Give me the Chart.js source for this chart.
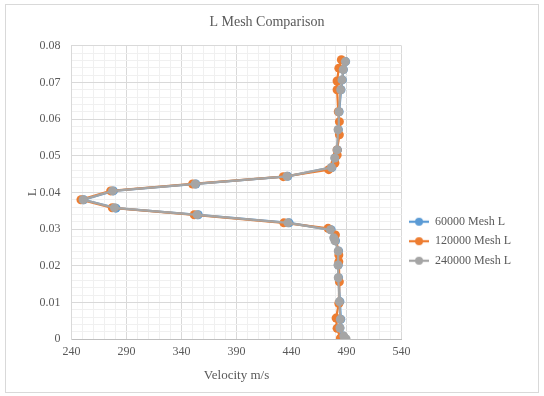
<!DOCTYPE html>
<html>
<head>
<meta charset="utf-8">
<script src="https://cdn.jsdelivr.net/npm/chart.js@4"></script>
<style>
    html, body { margin: 0; padding: 0; background: #ffffff; }
    #wrap { width: 544px; height: 396px; position: relative; }
</style>
</head>
<body>
<div id="wrap"><canvas id="meshChart"></canvas></div>
<script>
// values (velocity m/s vs L)
const seriesNames = ['60000 Mesh L', '120000 Mesh L', '240000 Mesh L']
const seriesColors = ['#5B9BD5', '#ED7D31', '#A5A5A5']

const velocity60k = [489.0, 487.0, 484.0, 484.8, 484.0, 482.8, 482.5, 482.8, 480.0, 478.8, 476.0, 437.8, 355.2, 280.4, 251.0, 278.0, 353.0, 436.5, 476.8, 479.6, 481.8, 482.6, 483.3, 485.0, 486.2, 487.2, 489.2]
const length60k = [0.0000, 0.0008, 0.0030, 0.0054, 0.0102, 0.0167, 0.0202, 0.0240, 0.0268, 0.0276, 0.0298, 0.0317, 0.0339, 0.0357, 0.0380, 0.0404, 0.0423, 0.0444, 0.0468, 0.0494, 0.0516, 0.0571, 0.0620, 0.0680, 0.0707, 0.0735, 0.0757]

const velocity120k = [484.4, 481.4, 480.5, 483.0, 483.5, 483.0, 483.0, 479.9, 473.2, 433.0, 351.5, 277.0, 248.5, 275.5, 350.0, 432.5, 473.8, 479.5, 481.5, 481.4, 483.5, 483.5, 482.5, 481.4, 481.4, 483.0, 485.3]
const length120k = [0.0002, 0.0029, 0.0057, 0.0097, 0.0156, 0.0211, 0.0229, 0.0284, 0.0302, 0.0317, 0.0339, 0.0358, 0.0380, 0.0404, 0.0423, 0.0443, 0.0462, 0.0480, 0.0502, 0.0516, 0.0557, 0.0593, 0.0620, 0.0680, 0.0704, 0.0739, 0.0762]

const velocity240k = [489.6, 487.5, 484.0, 484.4, 483.5, 482.5, 482.3, 482.5, 479.5, 478.4, 475.4, 436.7, 354.2, 279.0, 250.5, 277.2, 352.4, 435.8, 476.3, 479.3, 481.4, 482.3, 483.0, 484.7, 485.9, 487.0, 489.0]
const length240k = [0.0000, 0.0008, 0.0030, 0.0054, 0.0102, 0.0167, 0.0202, 0.0240, 0.0268, 0.0276, 0.0298, 0.0317, 0.0339, 0.0358, 0.0380, 0.0404, 0.0423, 0.0444, 0.0468, 0.0494, 0.0516, 0.0571, 0.0620, 0.0680, 0.0707, 0.0735, 0.0757]

const xMin = 240, xMax = 540, xMajor = 50, xMinor = 10
const yMin = 0, yMax = 0.08, yMajor = 0.01, yMinor = 0.002

const textColor = '#595959'
const fontFamily = '"Liberation Serif", "Times New Roman", serif'

function toPoints(xs, ys) {
    return xs.map((x, i) => ({ x: x, y: ys[i] }))
}

function isMajorX(value) {
    return Math.abs((value - xMin) % xMajor) < 1e-6
}

function isMajorY(value) {
    const steps = value / yMajor
    return Math.abs(steps - Math.round(steps)) < 1e-6
}

// small line + dot images for the legend, like the Excel markers
function legendIcon(color) {
    const c = document.createElement('canvas')
    c.width = 20
    c.height = 10
    const g = c.getContext('2d')
    g.strokeStyle = color
    g.lineWidth = 2.25
    g.beginPath()
    g.moveTo(0, 5)
    g.lineTo(20, 5)
    g.stroke()
    g.fillStyle = color
    g.beginPath()
    g.arc(10, 5, 4, 0, Math.PI * 2)
    g.fill()
    return c
}
const legendIcons = seriesColors.map(legendIcon)

const outerBorder = {
    id: 'outerBorder',
    beforeDraw(chart) {
        const ctx = chart.ctx
        ctx.save()
        ctx.fillStyle = '#ffffff'
        ctx.fillRect(0, 0, chart.width, chart.height)
        ctx.strokeStyle = '#d9d9d9'
        ctx.lineWidth = 1
        ctx.strokeRect(5.5, 4.5, 533, 388)
        ctx.restore()
    }
}

function makeDataset(index, xs, ys, order) {
    return {
        label: seriesNames[index],
        data: toPoints(xs, ys),
        showLine: true,
        borderColor: seriesColors[index],
        backgroundColor: seriesColors[index],
        borderWidth: 2.25,
        pointRadius: 4.5,
        pointHoverRadius: 4.5,
        pointBorderWidth: 0,
        tension: 0,
        order: order,
    }
}

const ctx = document.getElementById('meshChart').getContext('2d')
new Chart(ctx, {
    type: 'scatter',
    data: {
        datasets: [
            makeDataset(0, velocity60k, length60k, 3),
            makeDataset(1, velocity120k, length120k, 2),
            makeDataset(2, velocity240k, length240k, 1),
        ]
    },
    plugins: [outerBorder],
    options: {
        responsive: true,
        maintainAspectRatio: false,
        animation: false,
        events: [],
        layout: {
            padding: { top: 5, left: 13, right: 23, bottom: 9 }
        },
        plugins: {
            tooltip: { enabled: false },
            title: {
                display: true,
                text: 'L Mesh Comparison',
                color: textColor,
                font: { family: fontFamily, size: 14, weight: 'normal' },
                padding: { top: 9, bottom: 15 },
            },
            legend: {
                position: 'right',
                align: 'center',
                // blank title only pushes the entries down, as in the reference
                title: {
                    display: true,
                    text: ' ',
                    font: { family: fontFamily, size: 12 },
                    padding: { top: 38, bottom: 38 },
                },
                labels: {
                    color: textColor,
                    font: { family: fontFamily, size: 12 },
                    usePointStyle: true,
                    pointStyleWidth: 20,
                    padding: 7.5,
                    sort: (a, b) => a.datasetIndex - b.datasetIndex,
                    generateLabels(chart) {
                        const items = Chart.defaults.plugins.legend.labels.generateLabels(chart)
                        items.forEach(item => {
                            item.pointStyle = legendIcons[item.datasetIndex]
                        })
                        return items
                    }
                }
            }
        },
        scales: {
            x: {
                type: 'linear',
                min: xMin,
                max: xMax,
                ticks: {
                    stepSize: xMinor,
                    autoSkip: false,
                    maxRotation: 0,
                    minRotation: 0,
                    padding: 6,
                    color: textColor,
                    font: { family: fontFamily, size: 12 },
                    callback: value => isMajorX(value) ? String(value) : '',
                },
                grid: {
                    drawTicks: false,
                    color: c => isMajorX(c.tick.value) ? '#d9d9d9' : '#f0f0f0',
                    lineWidth: 1,
                },
                border: { color: '#bfbfbf' },
                title: {
                    display: true,
                    text: 'Velocity m/s',
                    color: textColor,
                    font: { family: fontFamily, size: 13 },
                    padding: { top: 2, bottom: 4 },
                },
            },
            y: {
                type: 'linear',
                min: yMin,
                max: yMax,
                ticks: {
                    stepSize: yMinor,
                    autoSkip: false,
                    padding: 11,
                    color: textColor,
                    font: { family: fontFamily, size: 12 },
                    callback: value => {
                        if (!isMajorY(value)) return ''
                        return value === 0 ? '0' : value.toFixed(2)
                    },
                },
                grid: {
                    drawTicks: false,
                    color: c => isMajorY(c.tick.value) ? '#d9d9d9' : '#f0f0f0',
                    lineWidth: 1,
                },
                border: { color: '#d9d9d9' },
                title: {
                    display: true,
                    text: 'L',
                    color: textColor,
                    font: { family: fontFamily, size: 13 },
                    padding: { top: 12, bottom: -12 },
                },
            }
        }
    }
})
</script>
</body>
</html>
